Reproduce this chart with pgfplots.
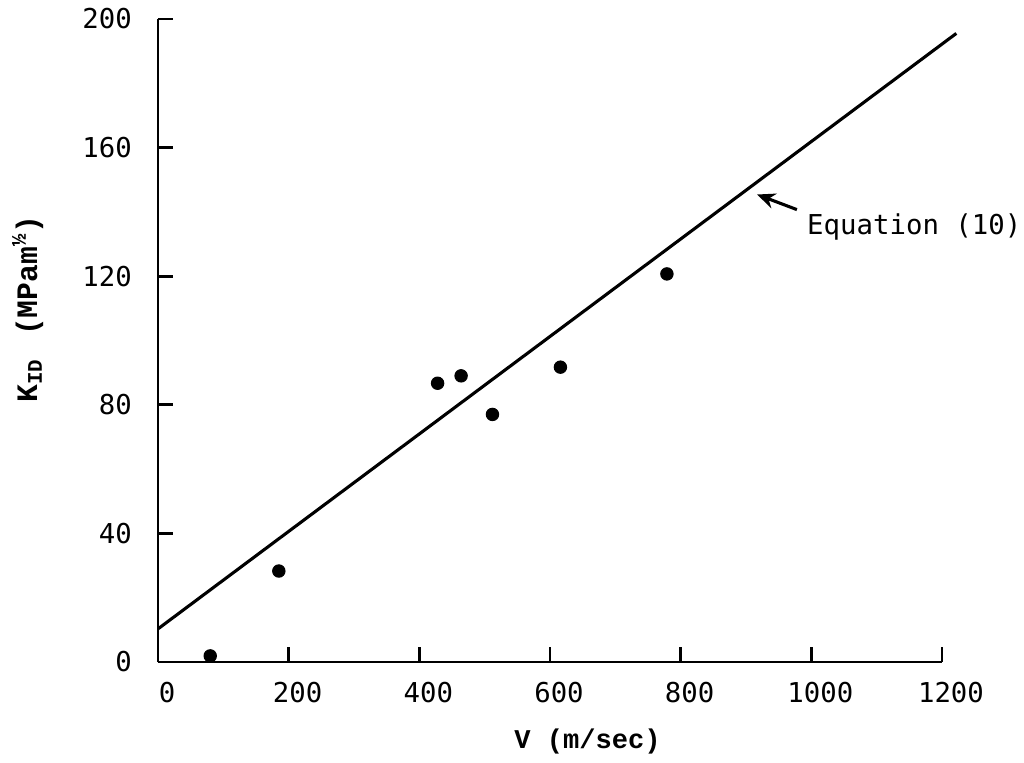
\documentclass[border=0pt]{standalone}
\usepackage{pgfplots}
\pgfplotsset{compat=1.18}
\usepackage{fontspec}
\setmainfont{DejaVu Sans Mono}
\newfontfamily\labfont{Liberation Mono}
\usetikzlibrary{arrows.meta}

\begin{document}
\begin{tikzpicture}
\begin{axis}[
    scale only axis, width=303.8pt, height=249.2pt,
    xmin=0, xmax=1200, ymin=0, ymax=200,
    axis x line*=bottom, axis y line*=left,
    xtick={0,200,...,1200}, ytick={0,40,...,200},
    major tick length=5.7pt,
    every tick/.style={black, line width=1.1pt},
    axis line style={line width=1.1pt},
    tick label style={font=\fontsize{10.6}{12}\selectfont},
    /pgf/number format/assume math mode=true,
    /pgf/number format/1000 sep={},
    xticklabel style={xshift=3.5pt, yshift=-4.2pt},
    yticklabel style={xshift=-6.6pt},
    xlabel={V (m/sec)},
    xlabel style={font=\labfont\bfseries\fontsize{10.5}{12}\selectfont,
        at={(axis description cs:0.548,-0.1236)}, anchor=center},
    ylabel={K\textsubscript{ID}\, (MPam\textsuperscript{½})},
    ylabel style={font=\labfont\bfseries\fontsize{11.5}{12}\selectfont,
        at={(axis description cs:-0.166,0.549)}, anchor=center},
    clip=false,
    xtick align=inside, ytick align=inside,
]
% fitted line, Equation (10)
\addplot[line width=1.2pt] coordinates {(0,10.3) (1222,195.5)};
% test data
\addplot[only marks, mark=*, mark size=2.4pt, black] coordinates {
    (80,1.9) (185,28.3) (428,86.7) (464,89.0) (512,77.0) (616,91.7) (779,120.7)
};
\draw[-{Stealth[length=7pt,width=6pt]}, line width=1.2pt] (axis cs:978,140.7) -- (axis cs:917,145.4);
\node[anchor=west, inner sep=0pt, font=\fontsize{10.6}{12}\selectfont] at (axis cs:993,135.4) {Equation (10)};
\path (axis cs:-241.8,-29.9) rectangle (axis cs:1325.6,204.7);
\end{axis}
\end{tikzpicture}
\end{document}
